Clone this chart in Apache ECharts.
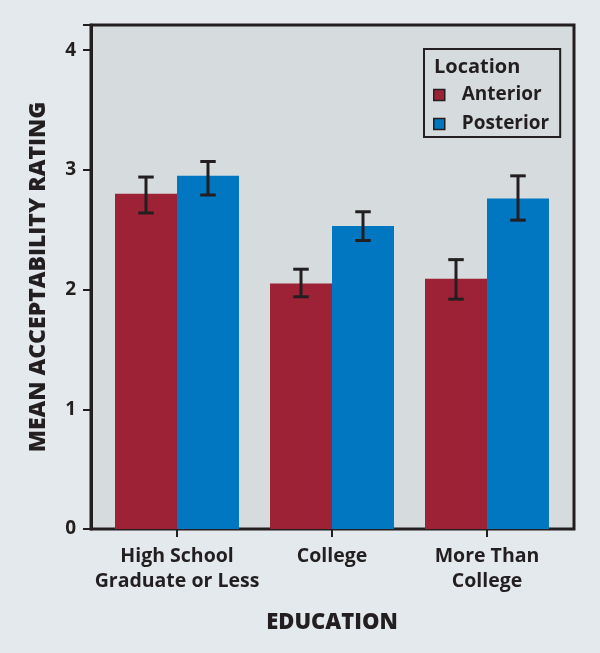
<!DOCTYPE html>
<html><head><meta charset="utf-8">
<script src="https://cdn.jsdelivr.net/npm/echarts@6/dist/echarts.min.js"></script>
<style>html,body{margin:0;padding:0;background:#e4e9ed;}#c{width:600px;height:653px;}</style>
</head><body><div id="c"></div>
<script>
const categories = ['High School\nGraduate or Less', 'College', 'More Than\nCollege'];
const anterior = [2.80, 2.05, 2.09];
const anteriorLow = [2.64, 1.94, 1.92];
const anteriorHigh = [2.94, 2.17, 2.25];
const posterior = [2.95, 2.53, 2.76];
const posteriorLow = [2.79, 2.41, 2.58];
const posteriorHigh = [3.07, 2.65, 2.95];
const yTicks = [0, 1, 2, 3, 4];

const FONT = '"Open Sans", "Noto Sans", sans-serif';
const INK = '#231f20';
const RED = '#9d2235';
const BLUE = '#0077c0';
const Y_MAX = 4.21;

function errData(low, high) {
  return low.map((l, i) => [i, l, high[i]]);
}
function errRender(side) {
  return function (params, api) {
    const i = api.value(0);
    const band = api.size([1, 0])[0];
    const off = side * band * 0.2;
    const pLow = api.coord([i, api.value(1)]);
    const pHigh = api.coord([i, api.value(2)]);
    const x = pLow[0] + off;
    const cap = band * 0.05;
    const st = { stroke: INK, lineWidth: 3 };
    return { type: 'group', children: [
      { type: 'line', shape: { x1: x, y1: pLow[1], x2: x, y2: pHigh[1] }, style: st },
      { type: 'line', shape: { x1: x - cap, y1: pLow[1], x2: x + cap, y2: pLow[1] }, style: st },
      { type: 'line', shape: { x1: x - cap, y1: pHigh[1], x2: x + cap, y2: pHigh[1] }, style: st }
    ]};
  };
}

const chart = echarts.init(document.getElementById('c'), null, { renderer: 'canvas' });
chart.setOption({
  backgroundColor: '#e4e9ed',
  animation: false,
  textStyle: { fontFamily: FONT },
  grid: [
    { left: 99.5, width: 465, top: 25, bottom: 124 },
    { left: 91, right: 26, top: 25, bottom: 124, show: true, backgroundColor: '#d6dbde', borderColor: INK, borderWidth: 3, z: 0 }
  ],
  xAxis: [
    { type: 'category', gridIndex: 0, data: categories,
      axisLine: { show: false },
      axisTick: { show: true, alignWithLabel: true, length: 8, lineStyle: { color: INK, width: 2 } },
      axisLabel: { interval: 0, color: INK, fontFamily: FONT, fontWeight: 'bold', fontSize: 19.5, lineHeight: 25, margin: 15 },
      name: 'EDUCATION', nameLocation: 'middle', nameGap: 83,
      nameTextStyle: { color: INK, fontFamily: FONT, fontWeight: 800, fontSize: 22 }
    },
    { type: 'value', gridIndex: 1, show: false }
  ],
  yAxis: [
    { type: 'value', gridIndex: 0, min: 0, max: Y_MAX, show: false },
    { type: 'value', gridIndex: 1, min: 0, max: Y_MAX, interval: 1,
      splitLine: { show: false },
      axisLine: { show: true, lineStyle: { color: INK, width: 3 } },
      axisTick: { show: true, length: 8, lineStyle: { color: INK, width: 2 } },
      axisLabel: { color: INK, fontFamily: FONT, fontWeight: 'bold', fontSize: 19, margin: 15,
        formatter: v => yTicks.includes(v) ? String(v) : '' },
      name: 'MEAN ACCEPTABILITY RATING', nameLocation: 'middle', nameGap: 41,
      nameTextStyle: { color: INK, fontFamily: FONT, fontWeight: 900, fontSize: 23 }
    }
  ],
  legend: {
    left: 424, top: 49, orient: 'vertical',
    data: ['Anterior', 'Posterior'],
    padding: [36, 11, 3, 9],
    borderColor: INK, borderWidth: 2,
    itemGap: 9, itemWidth: 11, itemHeight: 11,
    icon: 'rect',
    itemStyle: { borderColor: INK, borderWidth: 1.5 },
    textStyle: { color: INK, fontFamily: FONT, fontWeight: 'bold', fontSize: 19, lineHeight: 20, padding: [0, 0, 0, 12] }
  },
  graphic: [
    { type: 'text', left: 434, top: 57, z: 10,
      style: { text: 'Location', fill: INK, font: 'bold 20px ' + FONT } }
  ],
  series: [
    { name: 'Anterior', type: 'bar', xAxisIndex: 0, yAxisIndex: 0, data: anterior,
      barWidth: '40%', barGap: '0%', itemStyle: { color: RED } },
    { name: 'Posterior', type: 'bar', xAxisIndex: 0, yAxisIndex: 0, data: posterior,
      barWidth: '40%', barGap: '0%', itemStyle: { color: BLUE } },
    { type: 'custom', xAxisIndex: 0, yAxisIndex: 0, renderItem: errRender(-1), data: errData(anteriorLow, anteriorHigh), z: 5 },
    { type: 'custom', xAxisIndex: 0, yAxisIndex: 0, renderItem: errRender(1), data: errData(posteriorLow, posteriorHigh), z: 5 }
  ]
});
</script></body></html>
